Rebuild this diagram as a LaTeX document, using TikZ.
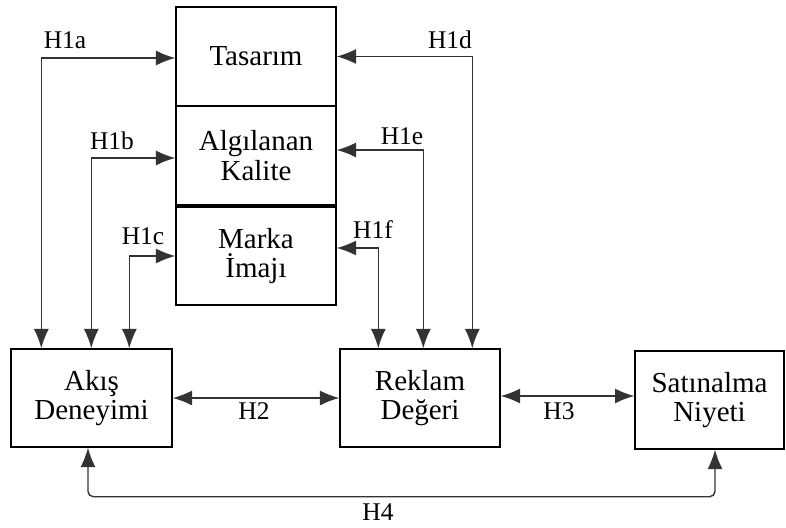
\documentclass[tikz,border=0pt]{standalone}
\usepackage{fontspec}
\setmainfont{Liberation Serif}
\usetikzlibrary{arrows.meta}

\tikzset{
  kutu/.style={draw, line width=0.8pt, align=center, font=\fontsize{16.5}{17}\selectfont},
  ok/.style={{Latex[length=11pt,width=8.5pt]}-{Latex[length=11pt,width=8.5pt]}, line width=0.8pt, draw=black!80},
  etiket/.style={font=\fontsize{14.5}{14.5}\selectfont}
}

\begin{document}
\begin{tikzpicture}[x=0.02cm,y=-0.02cm]
\useasboundingbox (0,0) rectangle (786,527);

% ust kutular
\node[kutu, minimum width=3.2cm, minimum height=1.98cm] (tas) at (256,56.5) {Tasarım};
\node[kutu, minimum width=3.2cm, minimum height=1.98cm] (alg) at (256,155.5) {Algılanan\\Kalite};
\node[kutu, minimum width=3.2cm, minimum height=1.96cm] (mar) at (256,256) {Marka\\İmajı};

% alt kutular
\node[kutu, minimum width=3.22cm, minimum height=1.96cm] (aki) at (91.5,398) {Akış\\Deneyimi};
\node[kutu, minimum width=3.2cm, minimum height=1.96cm] (rek) at (420,398) {Reklam\\Değeri};
\node[kutu, minimum width=2.98cm, minimum height=1.96cm] (sat) at (709.5,400) {Satınalma\\Niyeti};

% baglantilar
\draw[ok] ([yshift=-0.03cm]tas.west) -| ([xshift=0.62cm]aki.north west);
\draw[ok] ([yshift=-0.05cm]alg.west) -| ([xshift=1.62cm]aki.north west);
\draw[ok] (mar.west) -| ([xshift=2.38cm]aki.north west);
\draw[ok] (tas.east) -| ([xshift=2.66cm]rek.north west);
\draw[ok] ([yshift=0.11cm]alg.east) -| ([xshift=1.68cm]rek.north west);
\draw[ok] ([yshift=0.16cm]mar.east) -| ([xshift=0.78cm]rek.north west);
\draw[ok] (aki.east) -- (rek.west);
\draw[ok] ([yshift=0.04cm]rek.east) -- ([yshift=0.04cm]rek.east -| sat.west);
\draw[ok, rounded corners=3pt] ([xshift=-0.07cm]aki.south) -- ++(0,49) -| ([xshift=0.11cm]sat.south);

% etiketler
\node[etiket] (h1a) at (65,40) {H1a};
\node[etiket] (h1b) at (112,141) {H1b};
\node[etiket] (h1c) at (143,236) {H1c};
\node[etiket] (h1d) at (450,40) {H1d};
\node[etiket] (h1e) at (402,136) {H1e};
\node[etiket] (h1f) at (373,230) {H1f};
\node[etiket] (h2) at (254,411) {H2};
\node[etiket] (h3) at (559,411) {H3};
\node[etiket] (h4) at (378,512) {H4};

\end{tikzpicture}
\end{document}
